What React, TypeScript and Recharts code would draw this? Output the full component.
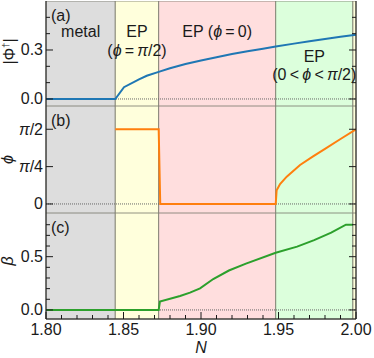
import React from 'react';
import { LineChart, Line, XAxis, YAxis, ReferenceArea, ReferenceLine } from 'recharts';

const FONT = '"Liberation Sans", Arial, Helvetica, sans-serif';
const INK = '#1a1a1a';

// x axis (N)
const xTicks = [1.8, 1.81, 1.82, 1.83, 1.84, 1.85, 1.86, 1.87, 1.88, 1.89, 1.9, 1.91, 1.92, 1.93, 1.94, 1.95, 1.96, 1.97, 1.98, 1.99, 2.0];
const xMajor = [1.8, 1.85, 1.9, 1.95, 2.0];

// phase regions
const regionFrom = [1.8, 1.8447, 1.8727, 1.9482, 1.998];
const regionTo = [1.8447, 1.8727, 1.9482, 1.998, 2.0];
const regionFill = ['#dddddd', '#ffffdc', '#ffdede', '#dcffdc', '#ffffdc'];
const regionText = [['metal'], ['EP', '(ϕ\u2009=\u2009π/2)'], ['EP (ϕ\u2009=\u20090)'], ['EP', '(0\u2009<\u2009ϕ\u2009<\u2009π/2)'], []];
const regionBaseline = [[36], [36, 55], [36], [61, 79], []];

// (a) |Phi^dagger|
const phiDagN = [1.8, 1.8447, 1.8503, 1.86, 1.865, 1.8727, 1.88, 1.89, 1.9, 1.91, 1.92, 1.93, 1.94, 1.9482, 1.96, 1.97, 1.98, 1.99, 2.0];
const phiDagVal = [0, 0, 0.072, 0.12, 0.142, 0.166, 0.188, 0.214, 0.236, 0.256, 0.275, 0.292, 0.308, 0.321, 0.339, 0.354, 0.367, 0.381, 0.394];

// (b) phi
const phiN = [1.8447, 1.8727, 1.8737, 1.9482, 1.9488, 1.951, 1.9553, 1.9639, 1.9723, 1.98, 1.99, 2.0];
const phiVal = [1.571, 1.571, 0, 0, 0.29, 0.42, 0.574, 0.82, 1.0, 1.16, 1.366, 1.571];

// (c) beta
const betaN = [1.8, 1.8727, 1.8735, 1.8865, 1.8929, 1.8994, 1.9079, 1.918, 1.929, 1.9482, 1.962, 1.973, 1.984, 1.9935, 1.998];
const betaVal = [0, 0, 0.078, 0.131, 0.162, 0.203, 0.29, 0.37, 0.435, 0.537, 0.594, 0.656, 0.725, 0.8, 0.8];

const aTicks = [0, 0.1, 0.2, 0.3, 0.4, 0.5];
const aMajor = [0, 0.3];
const bTicks = [0, Math.PI / 4, Math.PI / 2];
const bLabels = ['0', 'π/4', 'π/2'];
const cTicks = [0, 0.1, 0.2, 0.3, 0.4, 0.5, 0.6, 0.7, 0.8];
const cMajor = [0, 0.5];

const toRows = (ns: number[], vs: number[]) => ns.map((n, i) => ({ n, v: vs[i] }));
const near = (a: number, list: number[]) => list.some((b) => Math.abs(a - b) < 1e-6);

function Greek({ s }: { s: string }) {
  const parts = s.split(/([ϕπ])/);
  return (
    <>
      {parts.map((p, i) =>
        p === 'ϕ' || p === 'π' ? (
          <tspan key={i} fontStyle="italic">{p}</tspan>
        ) : (
          <tspan key={i}>{p}</tspan>
        )
      )}
    </>
  );
}

function XTick(props: any) {
  const { x, y, payload, side, showLabel } = props;
  const major = near(payload.value, xMajor);
  const len = major ? 7 : 4;
  const dir = side === 'bottom' ? -1 : 1;
  return (
    <g>
      <line x1={x} x2={x} y1={y} y2={y + dir * len} stroke={INK} strokeWidth={1} />
      {showLabel && major && (
        <text x={x} y={y + 16} textAnchor="middle" fontSize={16} fontFamily={FONT} fill={INK}>
          {payload.value.toFixed(2)}
        </text>
      )}
    </g>
  );
}

function YTick(props: any) {
  const { x, y, payload, side, major, fmt } = props;
  const isMajor = near(payload.value, major);
  const len = isMajor ? 7 : 4;
  const dir = side === 'left' ? 1 : -1;
  return (
    <g>
      <line x1={x} x2={x + dir * len} y1={y} y2={y} stroke={INK} strokeWidth={1} />
      {side === 'left' && isMajor && (
        <text x={x - 3} y={y + 5.5} textAnchor="end" fontSize={16} fontFamily={FONT} fill={INK}>
          <Greek s={fmt(payload.value)} />
        </text>
      )}
    </g>
  );
}

function YTitle(props: any) {
  const { viewBox, kind, shift } = props;
  const cx = viewBox.x + (kind === 'a' ? 14.5 : 12.5);
  const cy = viewBox.y + viewBox.height / 2 + shift;
  return (
    <text
      x={cx}
      y={cy}
      transform={`rotate(-90 ${cx} ${cy})`}
      textAnchor="middle"
      fontSize={16}
      fontFamily={FONT}
      fill={INK}
    >
      {kind === 'a' && (
        <>
          <tspan>|Φ</tspan>
          <tspan fontSize={9} dy={-6}>†</tspan>
          <tspan dy={6}>|</tspan>
        </>
      )}
      {kind === 'b' && <tspan fontStyle="italic">ϕ</tspan>}
      {kind === 'c' && <tspan fontStyle="italic">β</tspan>}
    </text>
  );
}

function XTitle(props: any) {
  const { viewBox } = props;
  return (
    <text
      x={viewBox.x + viewBox.width / 2}
      y={viewBox.y + 34}
      textAnchor="middle"
      fontSize={16}
      fontStyle="italic"
      fontFamily={FONT}
      fill={INK}
    >
      N
    </text>
  );
}

function RegionText(props: any) {
  const { viewBox, lines, baselines, tag } = props;
  const cx = viewBox.x + viewBox.width / 2;
  return (
    <g>
      {tag && (
        <text x={viewBox.x + 5} y={viewBox.y + 20} fontSize={16} fontFamily={FONT} fill={INK}>
          {tag}
        </text>
      )}
      {lines.map((l: string, i: number) => (
        <text key={i} x={cx} y={viewBox.y + baselines[i]} textAnchor="middle" fontSize={16} fontFamily={FONT} fill={INK}>
          <Greek s={l} />
        </text>
      ))}
    </g>
  );
}

interface PanelProps {
  top: number;
  plotH: number;
  withX: boolean;
  domain: [number, number];
  yTicks: number[];
  yMajor: number[];
  fmt: (v: number) => string;
  rows: { n: number; v: number }[];
  color: string;
  tag: string;
  kind: string;
  titleShift: number;
  showRegionText: boolean;
}

function Panel({ top, plotH, withX, domain, yTicks, yMajor, fmt, rows, color, tag, kind, titleShift, showRegionText }: PanelProps) {
  const h = plotH + (withX ? 39 : 0);
  return (
    <div style={{ position: 'absolute', left: 0, top }}>
      <LineChart width={374} height={h} margin={{ top: 0, right: 0, bottom: 0, left: 0 }}>
        <XAxis
          xAxisId="main"
          type="number"
          dataKey="n"
          domain={[1.8, 2.0]}
          allowDataOverflow
          ticks={xTicks}
          interval={0}
          tickSize={0}
          tickMargin={0}
          height={withX ? 39 : 0}
          axisLine={{ stroke: INK }}
          tickLine={false}
          tick={(p: any) => <XTick {...p} side="bottom" showLabel={withX} />}
          label={withX ? <XTitle /> : undefined}
        />
        <XAxis
          xAxisId="top"
          orientation="top"
          type="number"
          domain={[1.8, 2.0]}
          allowDataOverflow
          ticks={xTicks}
          interval={0}
          tickSize={0}
          tickMargin={0}
          height={0}
          axisLine={{ stroke: INK }}
          tickLine={false}
          tick={(p: any) => <XTick {...p} side="top" showLabel={false} />}
        />
        <YAxis
          yAxisId="main"
          type="number"
          domain={domain}
          allowDataOverflow
          ticks={yTicks}
          interval={0}
          tickSize={0}
          tickMargin={0}
          width={46}
          axisLine={{ stroke: INK }}
          tickLine={false}
          tick={(p: any) => <YTick {...p} side="left" major={yMajor} fmt={fmt} />}
          label={<YTitle kind={kind} shift={titleShift} />}
        />
        <YAxis
          yAxisId="right"
          orientation="right"
          type="number"
          domain={domain}
          allowDataOverflow
          ticks={yTicks}
          interval={0}
          tickSize={0}
          tickMargin={0}
          width={18}
          axisLine={{ stroke: INK }}
          tickLine={false}
          tick={(p: any) => <YTick {...p} side="right" major={yMajor} fmt={fmt} />}
        />
        {regionFrom.map((x1, i) => (
          <ReferenceArea
            key={`r${i}`}
            xAxisId="main"
            yAxisId="main"
            x1={x1}
            x2={regionTo[i]}
            fill={regionFill[i]}
            fillOpacity={1}
            stroke="#77776a"
            strokeWidth={0.8}
          />
        ))}
        {regionFrom.map((x1, i) => (
          <ReferenceArea
            key={`t${i}`}
            xAxisId="main"
            yAxisId="main"
            x1={x1}
            x2={regionTo[i]}
            fill="none"
            stroke="none"
            label={
              <RegionText
                lines={showRegionText ? regionText[i] : []}
                baselines={regionBaseline[i]}
                tag={i === 0 ? tag : ''}
              />
            }
          />
        ))}
        <ReferenceLine xAxisId="main" yAxisId="main" y={0} stroke="#666" strokeDasharray="1 1" strokeWidth={1} />
        <Line
          xAxisId="main"
          yAxisId="main"
          data={rows}
          dataKey="v"
          type="linear"
          stroke={color}
          strokeWidth={2}
          dot={false}
          isAnimationActive={false}
        />
      </LineChart>
    </div>
  );
}

export default function App() {
  return (
    <div style={{ position: 'absolute', left: 0, top: 0, width: 374, height: 358, background: '#fff' }}>
      <Panel
        top={1}
        plotH={105}
        withX={false}
        domain={[-0.043, 0.6]}
        yTicks={aTicks}
        yMajor={aMajor}
        fmt={(v) => v.toFixed(1)}
        rows={toRows(phiDagN, phiDagVal)}
        color="#1f77b4"
        tag="(a)"
        kind="a"
        titleShift={-2}
        showRegionText={true}
      />
      <Panel
        top={106}
        plotH={107}
        withX={false}
        domain={[-0.19, 2.06]}
        yTicks={bTicks}
        yMajor={bTicks}
        fmt={(v) => bLabels[bTicks.findIndex((t) => Math.abs(t - v) < 1e-6)]}
        rows={toRows(phiN, phiVal)}
        color="#ff7f0e"
        tag="(b)"
        kind="b"
        titleShift={0}
        showRegionText={false}
      />
      <Panel
        top={213}
        plotH={106}
        withX={true}
        domain={[-0.085, 0.91]}
        yTicks={cTicks}
        yMajor={cMajor}
        fmt={(v) => v.toFixed(1)}
        rows={toRows(betaN, betaVal)}
        color="#2ca02c"
        tag="(c)"
        kind="c"
        titleShift={-5}
        showRegionText={false}
      />
    </div>
  );
}
